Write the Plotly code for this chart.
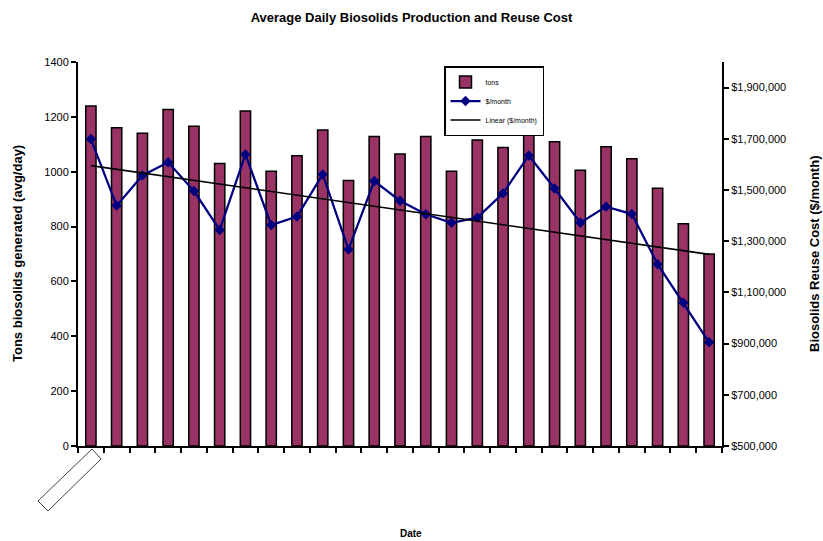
import numpy as np
import plotly.graph_objects as go

# Monthly records (25 consecutive months)
months = list(range(1, 26))
tons_per_day = [1240, 1160, 1140, 1227, 1166, 1030, 1221, 1002, 1058, 1152,
                968, 1128, 1065, 1128, 1002, 1116, 1088, 1210, 1109, 1005,
                1091, 1047, 940, 810, 700]
cost_per_month = [1699000, 1439000, 1557000, 1608000, 1496000, 1344000, 1639000,
                  1363000, 1396000, 1561000, 1268000, 1535000, 1458000, 1405000,
                  1372000, 1392000, 1487000, 1635000, 1506000, 1372000, 1435000,
                  1406000, 1210000, 1060000, 905000]
left_ticks = [0, 200, 400, 600, 800, 1000, 1200, 1400]
right_ticks = [500000, 700000, 900000, 1100000, 1300000, 1500000, 1700000, 1900000]

FONT = "Arial, Liberation Sans, sans-serif"

# Least-squares linear trend of the monthly cost
slope, intercept = np.polyfit(months, cost_per_month, 1)
trend = [slope * m + intercept for m in months]

fig = go.Figure()
fig.add_trace(go.Bar(
    x=months, y=tons_per_day, name="tons", width=0.4,
    marker=dict(color="#993366", line=dict(color="black", width=1.5)),
))
fig.add_trace(go.Scatter(
    x=months, y=cost_per_month, name="$/month", yaxis="y2",
    mode="lines+markers",
    line=dict(color="#000080", width=2.25),
    marker=dict(symbol="diamond", size=8, color="#000080"),
))
fig.add_trace(go.Scatter(
    x=[months[0], months[-1]], y=[trend[0], trend[-1]],
    name="Linear ($/month)", yaxis="y2", mode="lines",
    line=dict(color="black", width=1.6),
))

L, R, T, B = 78, 101, 62, 95
W, H = 823, 541
pw, ph = W - L - R, H - T - B

def px(x):
    return (x - L) / pw

def py(y):
    return (H - B - y) / ph

x_bounds = [m - 0.5 for m in months] + [months[-1] + 0.5]
xr = [0.5, 25.5]
axis_common = dict(showgrid=False, zeroline=False, linecolor="black", linewidth=2,
                   tickcolor="black", tickwidth=2, ticklen=5)
tick_only = {k: v for k, v in axis_common.items() if k not in ("linecolor", "linewidth")}

fig.update_layout(
    width=W, height=H,
    margin=dict(l=L, r=R, t=T, b=B),
    paper_bgcolor="white", plot_bgcolor="white",
    font=dict(family=FONT, size=11, color="black"),
    title=dict(text="<b>Average Daily Biosolids Production and Reuse Cost</b>",
               x=0.5, xanchor="center", y=1 - 17 / H, yanchor="middle",
               font=dict(size=13, family=FONT)),
    xaxis=dict(range=xr, tickmode="array", tickvals=x_bounds, showticklabels=False,
               ticks="outside", showline=True, **axis_common),
    xaxis2=dict(range=xr, overlaying="x", tickmode="array", tickvals=x_bounds,
                showticklabels=False, ticks="inside", showline=False, **tick_only),
    yaxis=dict(range=[0, 1400], tickmode="array", tickvals=left_ticks,
               ticks="outside", showline=True, tickfont=dict(size=11), **axis_common),
    yaxis2=dict(range=[500000, 2000000], overlaying="y", side="right",
                tickmode="array", tickvals=right_ticks, tickformat="$,.0f",
                ticks="outside", showline=True, tickfont=dict(size=11), **axis_common),
    yaxis3=dict(range=[0, 1400], overlaying="y", tickmode="array", tickvals=left_ticks,
                ticks="inside", showticklabels=False, showline=False, **tick_only),
    yaxis4=dict(range=[500000, 2000000], overlaying="y", side="right",
                tickmode="array", tickvals=right_ticks, ticks="inside",
                showticklabels=False, showline=False, **tick_only),
    showlegend=True,
    legend=dict(x=px(444), y=py(66), xanchor="left", yanchor="top",
                bgcolor="white", bordercolor="black", borderwidth=1.5,
                font=dict(size=7, family=FONT), tracegroupgap=0,
                itemwidth=30),
    bargap=0.6,
)

# Axis titles
fig.add_annotation(text="<b>Tons biosolids generated (avg/day)</b>", textangle=-90,
                   xref="paper", yref="paper", x=px(17), y=py(254),
                   xanchor="center", yanchor="middle", showarrow=False,
                   font=dict(size=13, family=FONT))
fig.add_annotation(text="<b>Biosolids Reuse Cost ($/month)</b>", textangle=-90,
                   xref="paper", yref="paper", x=px(814), y=py(254),
                   xanchor="center", yanchor="middle", showarrow=False,
                   font=dict(size=13, family=FONT))
fig.add_annotation(text="<b>Date</b>", xref="paper", yref="paper",
                   x=px(411), y=py(533), xanchor="center", yanchor="middle",
                   showarrow=False, font=dict(size=10, family=FONT))

# Empty rotated category-label frame under the first month
corners = [(92, 449), (101, 459), (48, 511), (38, 501)]
path = "M " + " L ".join(f"{px(a):.5f},{py(b):.5f}" for a, b in corners) + " Z"
fig.add_shape(type="path", path=path, xref="paper", yref="paper",
              line=dict(color="#444444", width=1), fillcolor="white", layer="above")

fig.write_html("out.html")
